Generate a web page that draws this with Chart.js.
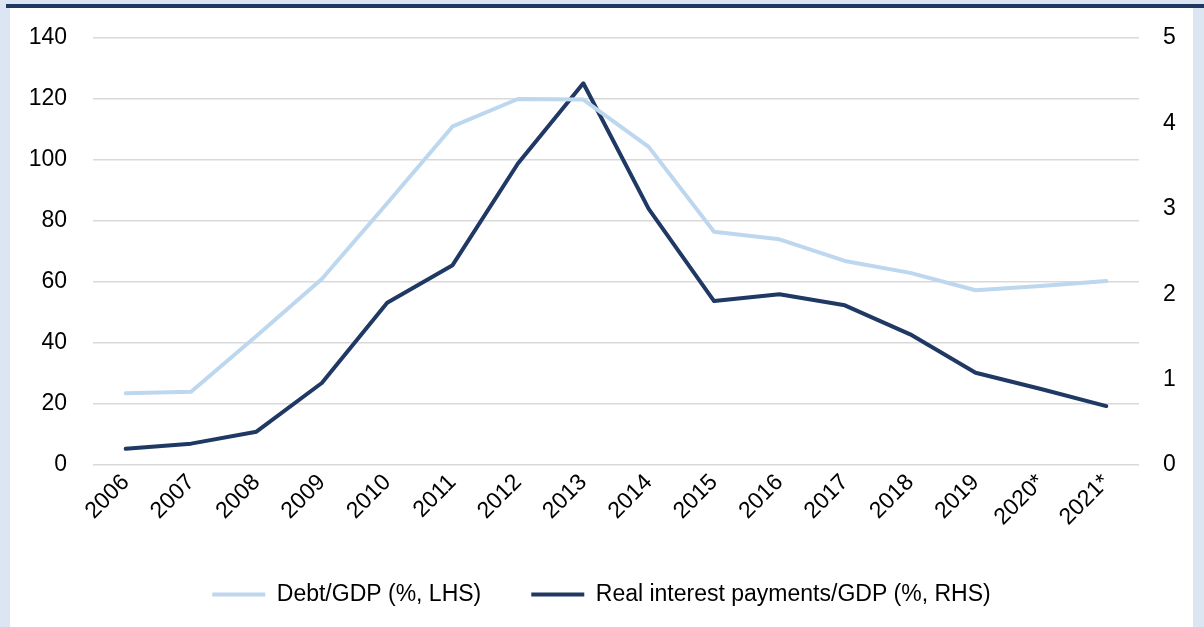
<!DOCTYPE html>
<html>
<head>
<meta charset="utf-8">
<script src="https://cdn.jsdelivr.net/npm/chart.js@4"></script>
<style>
  html, body { margin: 0; padding: 0; }
  body { width: 1204px; height: 627px; background: #dce6f2; position: relative; overflow: hidden; }
  #topline { position: absolute; left: 6px; top: 4px; width: 1198px; height: 4px; background: #1f3864; }
  #panel { position: absolute; left: 10px; top: 8px; width: 1183px; height: 619px; background: #ffffff; }
  #chart { display: block; }
</style>
</head>
<body>
<div id="topline"></div>
<div id="panel"><canvas id="chart" width="1183" height="619"></canvas></div>
<script>
// values
const years = ["2006","2007","2008","2009","2010","2011","2012","2013",
  "2014","2015","2016","2017","2018","2019","2020*","2021*"];
const debtGdp = [23.5, 24.0, 42.3, 61.0, 85.8, 111.0, 120.0, 119.8,
  104.3, 76.5, 74.0, 66.9, 63.0, 57.3, 58.7, 60.3];
const realInterest = [0.19, 0.25, 0.39, 0.96, 1.90, 2.34, 3.53, 4.47,
  3.00, 1.92, 2.00, 1.87, 1.53, 1.08, 0.89, 0.69];
const leftTicks = [0, 20, 40, 60, 80, 100, 120, 140];
const rightTicks = [0, 1, 2, 3, 4, 5];

const FONT = { family: "'Liberation Sans', Arial, sans-serif", size: 23 };
const TEXT = "#000000";
const GRID = "#d9d9d9";

// fixed axis sizes so the plot area lands where the reference has it
function fitY(width) {
  return s => { s.width = width; s.paddingTop = 12; s.paddingBottom = 0; };
}

new Chart(document.getElementById("chart"), {
  type: "line",
  data: {
    labels: years,
    datasets: [
      { label: "Debt/GDP (%, LHS)", data: debtGdp, yAxisID: "y",
        borderColor: "#bdd7ee", backgroundColor: "#bdd7ee", borderWidth: 4,
        pointRadius: 0, tension: 0, borderCapStyle: "round", borderJoinStyle: "round" },
      { label: "Real interest payments/GDP (%, RHS)", data: realInterest, yAxisID: "y1",
        borderColor: "#1f3864", backgroundColor: "#1f3864", borderWidth: 4,
        pointRadius: 0, tension: 0, borderCapStyle: "round", borderJoinStyle: "round" }
    ]
  },
  options: {
    responsive: false,
    animation: false,
    layout: { padding: { top: 30, bottom: 11, left: 0, right: 0 } },
    plugins: {
      tooltip: { enabled: false },
      legend: {
        position: "bottom",
        labels: {
          color: TEXT, font: FONT, usePointStyle: true, pointStyle: "line",
          pointStyleWidth: 53, boxHeight: 23, padding: 50
        }
      }
    },
    scales: {
      x: {
        offset: true,
        grid: { display: false },
        border: { display: false },
        ticks: { color: TEXT, font: FONT, minRotation: 45, maxRotation: 45, padding: -4 },
        afterFit: s => { s.height = 68; }
      },
      y: {
        position: "left", min: 0, max: 140,
        afterBuildTicks: s => { s.ticks = leftTicks.map(v => ({ value: v })); },
        grid: { color: GRID, lineWidth: 1.5, drawTicks: false },
        border: { display: false },
        ticks: { color: TEXT, font: FONT, padding: 26 },
        afterFit: fitY(83)
      },
      y1: {
        position: "right", min: 0, max: 5,
        afterBuildTicks: s => { s.ticks = rightTicks.map(v => ({ value: v })); },
        grid: { drawOnChartArea: false, drawTicks: false },
        border: { display: false },
        ticks: { color: TEXT, font: FONT, padding: 24 },
        afterFit: fitY(54)
      }
    }
  }
});
</script>
</body>
</html>
